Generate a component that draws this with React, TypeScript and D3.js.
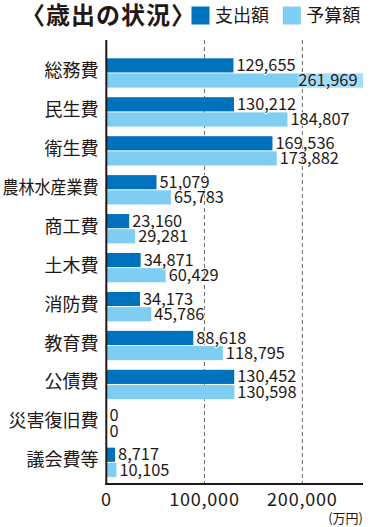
import React from 'react';
import * as d3 from 'd3';

const categories = ['総務費', '民生費', '衛生費', '農林水産業費', '商工費', '土木費', '消防費', '教育費', '公債費', '災害復旧費', '議会費等'];
const expenditure = [129655, 130212, 169536, 51079, 23160, 34871, 34173, 88618, 130452, 0, 8717];
const budget = [261969, 184807, 173882, 65783, 29281, 60429, 45786, 118795, 130598, 0, 10105];
const xTicks = [0, 100000, 200000];
const seriesNames = ['支出額', '予算額'];
const seriesColors = ['#0071bc', '#7ecef4'];

const W = 373;
const H = 527;
const ink = '#231815';
const font = '"Noto Sans CJK JP", "Noto Sans", sans-serif';

const App: React.FC = () => {
  const x = d3.scaleLinear().domain([0, 261969]).range([106.5, 363]);
  const y = d3.scaleBand<string>().domain(categories).range([58.3, 477]).paddingInner(0.247).paddingOuter(0);
  const barH = (y.bandwidth() - 1) / 2;
  const fmt = d3.format(',');
  const top = 40;
  const bottom = 484;
  const right = x.range()[1];

  // label width guess, used to decide if it fits right of the bar
  const labelW = (s: string) => s.length * 8.6;

  const bars = categories.flatMap((c, i) =>
    [expenditure[i], budget[i]].map((v, s) => ({ c, v, s, y0: (y(c) ?? 0) + s * (barH + 1) }))
  );

  return (
    <div style={{ position: 'absolute', left: 0, top: 0 }}>
      <svg width={W} height={H} style={{ display: 'block', background: '#fff' }} fontFamily={font}>
        {/* title + legend */}
        <text x={21} y={24} fontSize={24} fontWeight="bold" letterSpacing={1} fill={ink}>〈歳出の状況〉</text>
        {seriesNames.map((n, s) => (
          <g key={n} transform={`translate(${191.5 + s * 91.3},0)`}>
            <rect x={0} y={6.5} width={18} height={18} fill={seriesColors[s]} />
            <text x={23.5} y={22} fontSize={18} fill={ink}>{n}</text>
          </g>
        ))}

        {/* dashed grid */}
        {xTicks.filter(t => t > 0).map(t => (
          <line key={t} x1={x(t)} x2={x(t)} y1={top} y2={bottom} stroke="#666" strokeWidth={1} strokeDasharray="4,3" />
        ))}

        {/* bars */}
        {bars.map(b => (
          <rect key={`${b.c}-${b.s}`} x={x(0)} y={b.y0} width={x(b.v) - x(0)} height={barH} fill={seriesColors[b.s]} />
        ))}

        {/* value labels */}
        {bars.map(b => {
          const s = fmt(b.v);
          const inside = x(b.v) + 3 + labelW(s) > right + 4;
          const base = b.y0 + barH - 1.5;
          if (inside) {
            const tx = x(b.v) - 5.5;
            return (
              <g key={`l-${b.c}-${b.s}`}>
                <rect x={tx - labelW(s) + 0.5} y={b.y0} width={x(b.v) - tx + labelW(s) - 0.5} height={barH} fill="#fff" opacity={0.3} />
                <text x={tx} y={base} fontSize={16.4} textAnchor="end" fill={ink}>{s}</text>
              </g>
            );
          }
          return (
            <text key={`l-${b.c}-${b.s}`} x={x(b.v) + 3} y={base} fontSize={16.4} fill={ink}
              stroke="#fff" strokeWidth={2} paintOrder="stroke" strokeLinejoin="round">{s}</text>
          );
        })}

        {/* category labels */}
        {categories.map(c => (
          <text key={c} x={98.5} y={(y(c) ?? 0) + y.bandwidth() / 2 + 4} fontSize={18} textAnchor="end" fill={ink}
            {...(c.length > 5 ? { textLength: 96, lengthAdjust: 'spacingAndGlyphs' } : {})}>{c}</text>
        ))}

        {/* axes */}
        <line x1={106.3} x2={106.3} y1={top} y2={bottom + 1} stroke={ink} strokeWidth={2} />
        <line x1={105.3} x2={right} y1={bottom} y2={bottom} stroke={ink} strokeWidth={2} />
        {xTicks.map(t => (
          <text key={t} x={x(t)} y={506} fontSize={18} letterSpacing={0.8} textAnchor="middle" fill={ink}>{fmt(t)}</text>
        ))}
        <text x={363} y={523} fontSize={13} textAnchor="end" fill={ink}>(万円)</text>
      </svg>
    </div>
  );
};

export default App;
